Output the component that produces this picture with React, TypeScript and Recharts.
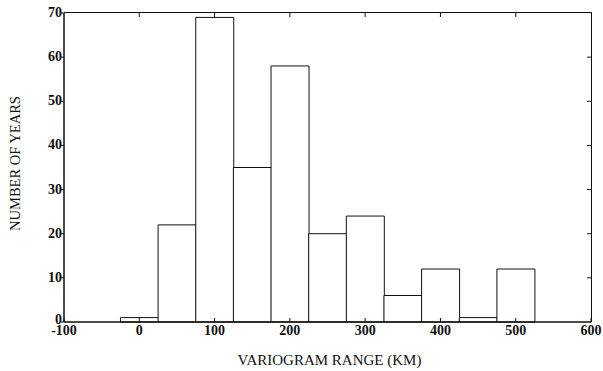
import React from 'react';
import { ComposedChart, Bar, XAxis, YAxis, Label } from 'recharts';

// Histogram of variogram ranges: bin centres (km) and the number of years in each bin
const binCenters = [0, 50, 100, 150, 200, 250, 300, 350, 400, 450, 500];
const yearCounts = [1, 22, 69, 35, 58, 20, 24, 6, 12, 1, 12];
const xTicks = [-100, 0, 100, 200, 300, 400, 500, 600];
const yTicks = [0, 10, 20, 30, 40, 50, 60, 70];

const data = binCenters.map((range, i) => ({ range, years: yearCounts[i] }));

const X_MIN = xTicks[0];
const X_MAX = xTicks[xTicks.length - 1];
const Y_MIN = yTicks[0];
const Y_MAX = yTicks[yTicks.length - 1];

const CHART_W = 603;
const CHART_H = 371;
const Y_AXIS_W = 64;
const X_AXIS_H = 49;
const MARGIN = { top: 13, right: 12, bottom: 0, left: 0 };
const PLOT_LEFT = MARGIN.left + Y_AXIS_W;
const PLOT_TOP = MARGIN.top;
const PLOT_RIGHT = CHART_W - MARGIN.right;
const PLOT_BOTTOM = CHART_H - MARGIN.bottom - X_AXIS_H;

const FONT = '"Liberation Serif", "Times New Roman", serif';
const INK = '#111';
const TICK_LEN = 4;

// Bottom axis tick: inward tick + label, plus the matching inward tick on the top edge.
const BottomTick = (props: any) => {
  const { x, y, payload } = props;
  const v = payload.value;
  return (
    <g>
      <path d={`M${x},${y}V${y - TICK_LEN}`} stroke={INK} strokeWidth={1} fill="none" />
      {v !== X_MIN && v !== X_MAX && (
        <path d={`M${x},${PLOT_TOP}V${PLOT_TOP + TICK_LEN}`} stroke={INK} strokeWidth={1} fill="none" />
      )}
      <text x={x} y={y + 13} textAnchor="middle" fontFamily={FONT} fontSize={14} fontWeight="bold" fill={INK}>
        {v}
      </text>
    </g>
  );
};

// Left axis tick: short outward tick + label, plus the inward tick on the right edge.
const LeftTick = (props: any) => {
  const { x, y, payload } = props;
  const v = payload.value;
  // the zero label is lifted a little so it sits above the -100 label in the corner
  const lift = v === 0 ? -2 : 0;
  return (
    <g>
      <path d={`M${x},${y}H${x - 3}`} stroke={INK} strokeWidth={1} fill="none" />
      {v !== Y_MIN && v !== Y_MAX && (
        <path d={`M${PLOT_RIGHT},${y}H${PLOT_RIGHT - TICK_LEN}`} stroke={INK} strokeWidth={1} fill="none" />
      )}
      <text x={x - 2} y={y + 4 + lift} textAnchor="end" fontFamily={FONT} fontSize={14} fontWeight="bold" fill={INK}>
        {v}
      </text>
    </g>
  );
};

const YTitle = (props: any) => {
  const { viewBox } = props;
  const cx = viewBox.x + 15;
  const cy = viewBox.y + viewBox.height / 2 - 4;
  return (
    <text
      x={cx}
      y={cy}
      transform={`rotate(-90, ${cx}, ${cy})`}
      textAnchor="middle"
      dominantBaseline="central"
      fontFamily={FONT}
      fontSize={14.5}
      fill={INK}
    >
      NUMBER OF YEARS
    </text>
  );
};

const XTitle = (props: any) => {
  const { viewBox } = props;
  const cx = viewBox.x + viewBox.width / 2 + 2;
  return (
    <text x={cx} y={viewBox.y + 43} textAnchor="middle" fontFamily={FONT} fontSize={15} fill={INK}>
      VARIOGRAM RANGE (KM)
    </text>
  );
};

export default function App() {
  return (
    <div style={{ position: 'absolute', left: 0, top: 0, width: CHART_W, height: CHART_H, background: '#fff' }}>
      <ComposedChart
        width={CHART_W}
        height={CHART_H}
        data={data}
        margin={MARGIN}
        barCategoryGap={0}
        barGap={0}
      >
        <XAxis
          dataKey="range"
          type="number"
          domain={[X_MIN, X_MAX]}
          ticks={xTicks}
          interval={0}
          height={X_AXIS_H}
          tickSize={0}
          tickMargin={0}
          tickLine={false}
          tick={<BottomTick />}
          axisLine={{ stroke: INK, strokeWidth: 1.5 }}
        >
          <Label content={<XTitle />} />
        </XAxis>
        <YAxis
          type="number"
          domain={[Y_MIN, Y_MAX]}
          ticks={yTicks}
          interval={0}
          width={Y_AXIS_W}
          tickSize={0}
          tickMargin={0}
          tickLine={false}
          tick={<LeftTick />}
          axisLine={{ stroke: INK, strokeWidth: 1.5 }}
        >
          <Label content={<YTitle />} />
        </YAxis>
        <Bar dataKey="years" fill="#fff" stroke={INK} strokeWidth={1} isAnimationActive={false} />
      </ComposedChart>
      {/* top and right edges of the plot frame */}
      <div
        style={{
          position: 'absolute',
          left: PLOT_LEFT,
          top: PLOT_TOP - 1,
          width: PLOT_RIGHT - PLOT_LEFT + 1,
          height: PLOT_BOTTOM - PLOT_TOP + 1,
          borderTop: `1px solid ${INK}`,
          borderRight: `1px solid ${INK}`,
          boxSizing: 'border-box',
          pointerEvents: 'none',
        }}
      />
    </div>
  );
}
